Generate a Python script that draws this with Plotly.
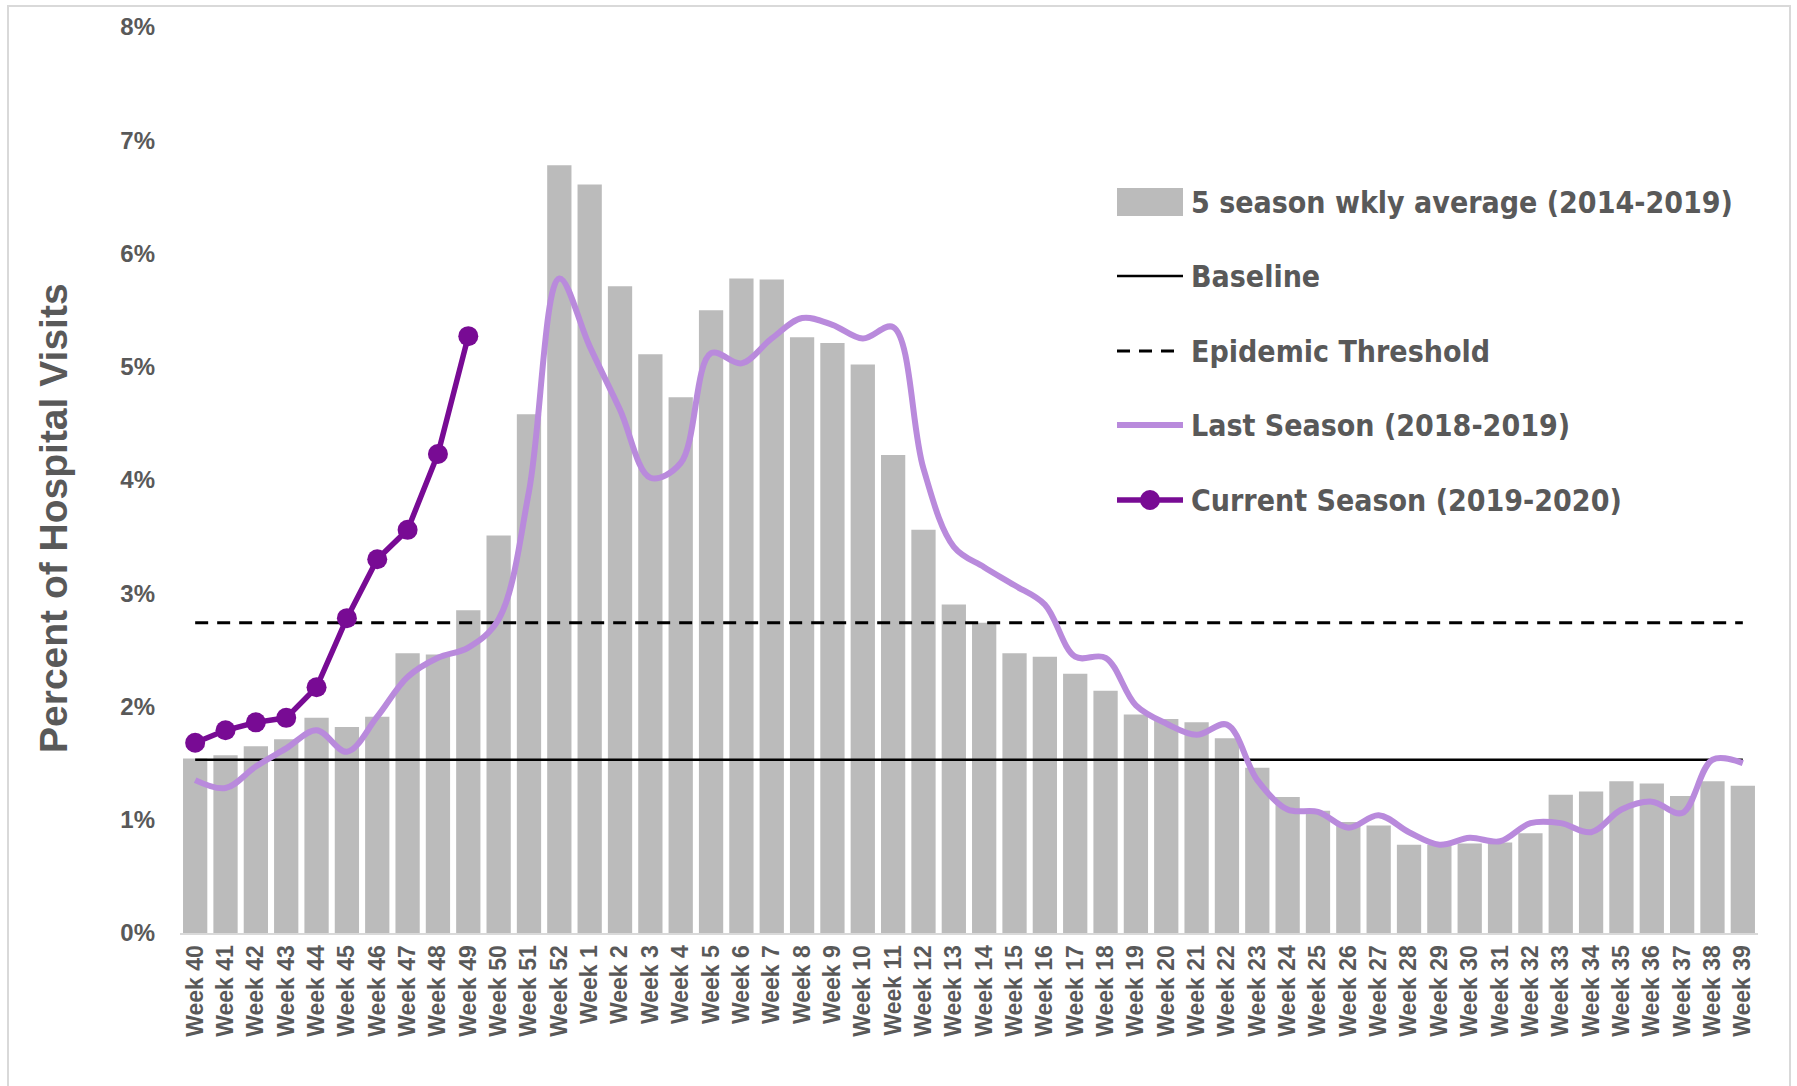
import plotly.graph_objects as go

# ---------------- data ----------------
weeks = ["Week %d" % n for n in list(range(40, 53)) + list(range(1, 40))]

five_season_avg = [
    1.54, 1.57, 1.65, 1.71, 1.90, 1.82, 1.91, 2.47, 2.46, 2.85, 3.51, 4.58, 6.78,
    6.61, 5.71, 5.11, 4.73, 5.50, 5.78, 5.77, 5.26, 5.21, 5.02,
    4.22, 3.56, 2.90, 2.74, 2.47, 2.44, 2.29, 2.14, 1.93, 1.89,
    1.86, 1.72, 1.46, 1.20, 1.08, 0.98, 0.95, 0.78, 0.78, 0.79,
    0.80, 0.88, 1.22, 1.25, 1.34, 1.32, 1.21, 1.34, 1.30,
]

last_season = [
    1.35, 1.28, 1.47, 1.63, 1.79, 1.60, 1.91, 2.26, 2.43, 2.52, 2.77, 3.90, 5.78,
    5.18, 4.62, 4.02, 4.15, 5.12, 5.03, 5.25, 5.43, 5.37, 5.25,
    5.35, 4.10, 3.41, 3.23, 3.07, 2.90, 2.44, 2.43, 2.01, 1.85,
    1.75, 1.84, 1.35, 1.09, 1.07, 0.93, 1.04, 0.89, 0.78, 0.84,
    0.81, 0.97, 0.97, 0.89, 1.09, 1.16, 1.06, 1.53, 1.50,
]

current_season = [1.68, 1.79, 1.86, 1.90, 2.17, 2.78, 3.30, 3.56, 4.23, 5.27]

baseline_value = 1.53
threshold_value = 2.74

legend_labels = [
    "5 season wkly average (2014-2019)",
    "Baseline",
    "Epidemic Threshold",
    "Last Season (2018-2019)",
    "Current Season (2019-2020)",
]

y_ticks = [0, 1, 2, 3, 4, 5, 6, 7, 8]
y_title = "Percent of Hospital Visits"

# ---------------- styles ----------------
BAR_COLOR = "#BBBBBB"
LAST_COLOR = "#B98ADC"
CUR_COLOR = "#780B94"
TEXT_COLOR = "#595959"
TICK_FONT = "Liberation Sans, Arial, sans-serif"
LEGEND_FONT = "DejaVu Sans Condensed, Arial Narrow, sans-serif"

W, H = 1797, 1086
ML, MR, MT, MB = 180, 39, 27, 153
PW = W - ML - MR
PH = H - MT - MB


def px_x(px):
    return (px - ML) / PW


def px_y(py):
    return (H - MB - py) / PH


fig = go.Figure()

fig.add_trace(go.Bar(
    x=weeks, y=five_season_avg, name=legend_labels[0],
    marker=dict(color=BAR_COLOR, line=dict(width=0)),
))
fig.add_trace(go.Scatter(
    x=weeks, y=[baseline_value] * len(weeks), name=legend_labels[1],
    mode="lines", line=dict(color="black", width=2.5),
))
fig.add_trace(go.Scatter(
    x=weeks, y=[threshold_value] * len(weeks), name=legend_labels[2],
    mode="lines", line=dict(color="black", width=3, dash="13px,9px"),
))
fig.add_trace(go.Scatter(
    x=weeks, y=last_season, name=legend_labels[3],
    mode="lines", line=dict(color=LAST_COLOR, width=6, shape="spline", smoothing=1.0),
))
fig.add_trace(go.Scatter(
    x=weeks[:len(current_season)], y=current_season, name=legend_labels[4],
    mode="lines+markers", line=dict(color=CUR_COLOR, width=5.5),
    marker=dict(color=CUR_COLOR, size=20),
))

# ---------------- manual legend ----------------
shapes = []
annotations = []
leg_y = [202, 276, 351, 425, 500]
sx0, sx1 = 1117, 1183
text_x = 1189

shapes.append(dict(type="rect", xref="paper", yref="paper",
                   x0=px_x(sx0), x1=px_x(sx1), y0=px_y(leg_y[0] + 14), y1=px_y(leg_y[0] - 14),
                   fillcolor=BAR_COLOR, line=dict(width=0)))
shapes.append(dict(type="line", xref="paper", yref="paper",
                   x0=px_x(sx0), x1=px_x(sx1), y0=px_y(leg_y[1]), y1=px_y(leg_y[1]),
                   line=dict(color="black", width=2.5)))
shapes.append(dict(type="line", xref="paper", yref="paper",
                   x0=px_x(sx0), x1=px_x(sx1), y0=px_y(leg_y[2]), y1=px_y(leg_y[2]),
                   line=dict(color="black", width=3, dash="13px,9px")))
shapes.append(dict(type="line", xref="paper", yref="paper",
                   x0=px_x(sx0), x1=px_x(sx1), y0=px_y(leg_y[3]), y1=px_y(leg_y[3]),
                   line=dict(color=LAST_COLOR, width=6)))
shapes.append(dict(type="line", xref="paper", yref="paper",
                   x0=px_x(sx0), x1=px_x(sx1), y0=px_y(leg_y[4]), y1=px_y(leg_y[4]),
                   line=dict(color=CUR_COLOR, width=5.5)))
cx = (sx0 + sx1) / 2
shapes.append(dict(type="circle", xref="paper", yref="paper",
                   x0=px_x(cx - 10), x1=px_x(cx + 10), y0=px_y(leg_y[4] + 10), y1=px_y(leg_y[4] - 10),
                   fillcolor=CUR_COLOR, line=dict(width=0)))

for lbl, yy in zip(legend_labels, leg_y):
    annotations.append(dict(
        text=lbl, xref="paper", yref="paper", x=px_x(text_x), y=px_y(yy),
        xanchor="left", yanchor="middle", showarrow=False,
        font=dict(family=LEGEND_FONT, size=30, color=TEXT_COLOR, weight="bold"),
    ))

# y-axis title
annotations.append(dict(
    text=y_title, xref="paper", yref="paper", x=px_x(53), y=px_y(518),
    xanchor="center", yanchor="middle", showarrow=False, textangle=-90,
    font=dict(family=TICK_FONT, size=39, color=TEXT_COLOR, weight="bold"),
))

# chart frame
shapes.append(dict(type="rect", xref="paper", yref="paper", layer="below",
                   x0=px_x(8), x1=px_x(1790), y0=px_y(1100), y1=px_y(6),
                   fillcolor="rgba(0,0,0,0)", line=dict(color="#D9D9D9", width=2)))

fig.update_layout(
    width=W, height=H,
    margin=dict(l=ML, r=MR, t=MT, b=MB, pad=0),
    paper_bgcolor="white", plot_bgcolor="white",
    showlegend=False,
    bargap=0.2,
    shapes=shapes,
    annotations=annotations,
    xaxis=dict(
        type="category", tickangle=-90, showgrid=False,
        range=[-0.5, len(weeks) - 0.5], autorange=False,
        tickmode="array", tickvals=weeks, ticktext=weeks,
        showline=True, linecolor="#D9D9D9", linewidth=2,
        ticks="", ticklabelstandoff=1,
        tickfont=dict(family=TICK_FONT, size=23, color=TEXT_COLOR, weight="bold"),
    ),
    yaxis=dict(
        range=[0, 8], tickvals=y_ticks, ticktext=["%d%%" % v for v in y_ticks],
        showgrid=False, zeroline=False, showline=False, ticks="",
        ticklabelstandoff=24,
        tickfont=dict(family=TICK_FONT, size=24, color=TEXT_COLOR, weight="bold"),
    ),
)

fig.write_html("out.html", config={"displayModeBar": False},
               post_script="document.body.style.margin='0px';")
